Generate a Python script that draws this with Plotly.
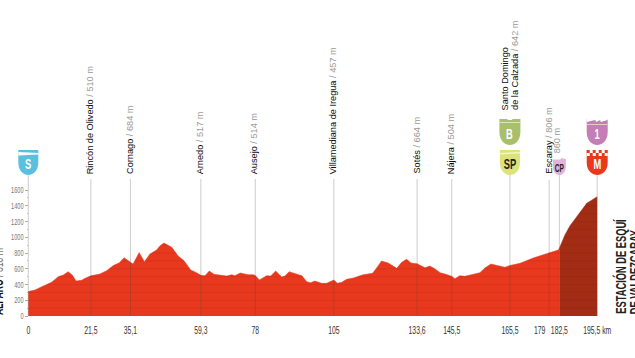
import numpy as np
import plotly.graph_objects as go

KM = [0,2.3,4.6,8,10.3,12,13.7,15.1,16.4,18.3,19.5,21.5,24.6,26.9,29.2,31.3,32.9,35.1,36,38.1,39.9,41.8,44.1,45.2,46.6,49.3,51.5,53.5,55.8,57.8,59.3,60.7,62.2,63.8,66.4,68.2,69.9,71,72.8,75.6,77.3,78,79.4,81.9,83.3,85,87.1,88.2,89.6,91.7,94,95.7,97,98.5,100.8,102.5,105,106.2,107.7,109.4,111.7,115.1,118.3,120,121.4,123.7,126.6,128.3,130,131.5,133.6,136.3,138,139.8,141.5,143.2,145.5,146.6,148.3,150,152.9,155.2,156.9,159,161.5,163.8,165.5,169,173.5,179,182.1,182.5,184.4,186.1,189.4,191.9,195.5]
ELEV = [310,330,372,428,500,520,563,520,444,453,478,510,533,576,640,677,741,684,660,805,690,787,838,889,927,872,762,703,584,550,517,512,571,529,520,508,525,512,546,525,525,514,457,512,508,571,495,508,563,538,512,436,423,444,415,415,457,415,428,466,483,525,542,626,698,673,605,681,720,673,664,614,635,597,550,533,504,474,512,504,525,550,610,660,639,618,642,669,737,806,838,860,1029,1143,1312,1431,1515]

PLACES = ["Rincón de Olivedo","Cornago","Arnedo","Ausejo","Villamediana de Iregua","Sotés","Nájera"]
PLACE_KM = [21.5,35.1,59.3,78,105,133.6,145.5]
PLACE_M = ["510 m","684 m","517 m","514 m","457 m","664 m","504 m"]

X_TICK_POS = [0,21.5,35.1,59.3,78,105,133.6,145.5,165.5,175.7,182.5,195.5]
X_TICK_TEXT = ["0","21,5","35,1","59,3","78","105","133,6","145,5","165,5","179","182,5","195,5 km"]
Y_TICKS = [0,200,400,600,800,1000,1200,1400,1600]
Y_MINOR = [100,300,500,700,900,1100,1300,1500]
LINE_KM = [0,21.5,35.1,59.3,78,105,133.6,145.5,165.5,179,182.5,195.5]
LINE_TOP = [1790,1740,1740,1740,1740,1740,1740,1740,1790,1725,1790,1790]
CLIMB_START = 182.5

RED, DARK = "#E8391F", "#A32C14"
NARROW = "Liberation Sans Narrow, Liberation Sans, sans-serif"
SANS = "Liberation Sans, Arial, sans-serif"
PX_PER_M = 0.07875
PX_PER_KM = 2.91
BASE_PX = 316
LEFT_PX = 28.3
def e(py):
    return (BASE_PX - py) / PX_PER_M

km, elev = np.array(KM), np.array(ELEV)
fig = go.Figure()
m1 = km <= CLIMB_START
fig.add_trace(go.Scatter(x=km[m1], y=elev[m1], mode="lines", fill="tozeroy", fillcolor=RED,
                         line=dict(color=RED, width=0.5), hoverinfo="skip"))
m2 = km >= CLIMB_START
fig.add_trace(go.Scatter(x=km[m2], y=elev[m2], mode="lines", fill="tozeroy", fillcolor=DARK,
                         line=dict(color=DARK, width=0.5), hoverinfo="skip"))

# faint level stripes clipped to the profile
grid_x = np.linspace(0, 195.5, 1600)
grid_profile = np.interp(grid_x, km, elev)
for lev in range(100, 1600, 100):
    fig.add_trace(go.Scatter(x=grid_x, y=np.where(grid_profile >= lev, lev, np.nan), mode="lines",
                             line=dict(color="rgba(110,20,0,0.16)", width=0.8), hoverinfo="skip"))

for k, top in zip(LINE_KM, LINE_TOP):
    fig.add_trace(go.Scatter(x=[k, k], y=[0, top], mode="lines", cliponaxis=False,
                             line=dict(color="rgba(70,70,70,0.27)", width=1), hoverinfo="skip"))
# elbow connecting km 179 to its displaced label
fig.add_trace(go.Scatter(x=[179, 179, 175.7], y=[0, -40, -40], mode="lines", cliponaxis=False,
                         line=dict(color="rgba(70,70,70,0.3)", width=0.8), hoverinfo="skip"))

anns = []
def place(k, html, py, xshift=0, size=9.2):
    anns.append(dict(x=k, y=e(py), xref="x", yref="y", text=html, showarrow=False, textangle=-90,
                     xanchor="center", yanchor="bottom", xshift=xshift, align="left",
                     font=dict(family=SANS, size=size)))
def lab(name, m):
    return f'<span style="color:#0d0d0d">{name}</span><span style="color:#9a9a9a"> / {m}</span>'

for n, k, m in zip(PLACES, PLACE_KM, PLACE_M):
    place(k, lab(n, m), 176, xshift=-1)
place(179, lab("Escaray", "806 m"), 176, xshift=-1)
place(182.5, '<span style="color:#9a9a9a">860 m</span>', 155, xshift=-2)
place(165.5, '<span style="color:#0d0d0d">de la Calzada</span><span style="color:#9a9a9a"> / 642 m</span>', 112, xshift=5)
place(165.5, '<span style="color:#0d0d0d">Santo Domingo</span>', 112, xshift=-5)

# shields
shapes = []
def shield_path(hw, h):
    return (f"M {-hw} 0 L {hw} 0 L {hw} {-0.5*h} C {hw} {-0.85*h} {0.45*hw} {-h} 0 {-h} "
            f"C {-0.45*hw} {-h} {-hw} {-0.85*h} {-hw} {-0.5*h} Z")
def pix_shape(k, py, path, color):
    shapes.append(dict(type="path", xref="x", yref="y", xsizemode="pixel", ysizemode="pixel",
                       xanchor=k, yanchor=e(py), path=path, fillcolor=color, line=dict(width=0)))
def badge(k, top, bottom, hw, color, text, tcolor, size):
    pix_shape(k, top, shield_path(hw, bottom - top), color)
    anns.append(dict(x=k, y=e((top + bottom) / 2 + 1), xref="x", yref="y", text=f"<b>{text}</b>", showarrow=False,
                     xanchor="center", yanchor="middle", font=dict(family=NARROW, size=size, color=tcolor)))
def rect(x0, y0, x1, y1):
    return f"M {x0} {-y0} L {x1} {-y0} L {x1} {-y1} L {x0} {-y1} Z"

badge(0, 150, 175, 10, "#5BC0E0", "S", "white", 15)
pix_shape(0, 150, "M -10 -2 L 10 -3 L 10 -4.5 L -10 -5.5 Z", "white")
badge(165.5, 150, 175, 10, "#DCE37A", "SP", "#222", 15)
pix_shape(165.5, 150, "M -10 -3 L 10 -2 L 10 -3.5 L -10 -4.5 Z", "#F4F6C8")
badge(165.5, 119, 145, 10.5, "#A9BF6C", "B", "white", 15)
pix_shape(165.5, 119, rect(-10.5, 3, 10.5, 4), "#DDE6BE")
pix_shape(165.5, 119, "M -10.5 0.5 L -3 0.5 L -2 -1 L 2 -1 L 3 0.5 L 10.5 0.5 L 10.5 0 L -10.5 0 Z", "white")
badge(182.5, 158, 175, 6.5, "#E3B4D8", "CP", "#222", 10.5)
pix_shape(182.5, 158, "M -6.5 0.5 L 6.5 0.5 L 6.5 -1 L 2 0 L 1 -1.5 L -6.5 -1.5 Z", "white")
badge(195.5, 119, 145, 10.5, "#C47DB5", "1", "white", 15)
pix_shape(195.5, 119, "M -10.5 0.5 L 10.5 0.5 L 10.5 -1 L 3.5 -3 L 3 -1 L -1 -3 L -2 -1 L -10.5 -3 Z", "white")
pix_shape(195.5, 119, rect(-10.5, 5, 10.5, 6), "#EBC9C0")
badge(195.5, 150, 175, 10.5, RED, "M", "white", 15)
pix_shape(195.5, 150, rect(-10.5, 0, 10.5, 6), "white")
for r in range(2):
    for c in range(7):
        if (r + c) % 2 == 0:
            pix_shape(195.5, 150, rect(-10.5 + 3 * c, 3 * r, -7.5 + 3 * c, 3 * r + 3), RED)

# side titles, partly running off the page as in the reference
anns.append(dict(xref="paper", yref="y", x=0, y=0, xshift=8, yshift=-1, xanchor="right", yanchor="bottom",
                 textangle=-90, showarrow=False, align="left",
                 text='<span style="color:#111"><b>ALFARO</b></span><span style="color:#777"> / 310 m</span>',
                 font=dict(family=NARROW, size=14)))
anns.append(dict(x=195.5, y=0, xref="x", yref="y", xshift=23, xanchor="center", yanchor="bottom", textangle=-90,
                 showarrow=False, text="<b>ESTACIÓN DE ESQUÍ</b>", align="left",
                 font=dict(family=NARROW, size=15, color="#222")))
anns.append(dict(x=195.5, y=0, xref="x", yref="y", xshift=37, xanchor="center", yanchor="bottom", textangle=-90,
                 showarrow=False, text="<b>DE VALDEZCARAY</b>", align="left",
                 font=dict(family=NARROW, size=15, color="#222")))

fig.update_layout(
    width=635, height=358, showlegend=False, autosize=False,
    margin=dict(l=0, r=0, t=0, b=42, pad=0),
    paper_bgcolor="white", plot_bgcolor="white",
    annotations=anns, shapes=shapes,
    xaxis=dict(range=[-LEFT_PX / PX_PER_KM, (635 - LEFT_PX) / PX_PER_KM], showgrid=False, zeroline=False,
               showline=False, ticks="outside", ticklen=4, tickcolor="rgba(0,0,0,0)",
               tickangle=0, tickmode="array", tickvals=X_TICK_POS, ticktext=X_TICK_TEXT,
               tickfont=dict(family=NARROW, size=11, color="#333")),
    yaxis=dict(range=[0, BASE_PX / PX_PER_M], showgrid=False, zeroline=False, showline=False,
               anchor="free", position=LEFT_PX / 635,
               tickmode="array", tickvals=Y_TICKS, ticks="outside", ticklen=3, tickcolor="#aaa", tickwidth=1,
               minor=dict(tickmode="array", tickvals=Y_MINOR, ticks="outside", ticklen=1.5, tickcolor="#bbb"),
               tickfont=dict(family=NARROW, size=9, color="#777")),
)
# No condensed face is installed: squeeze the real text elements set in the narrow family
NARROW_JS = """
function squeeze(){document.querySelectorAll('svg text').forEach(function(t){
 if(t.dataset.sq||!(t.style.fontFamily||'').includes('Narrow'))return;
 t.dataset.sq='1';t.setAttribute('textLength',t.getComputedTextLength()*0.62);
 t.setAttribute('lengthAdjust','spacingAndGlyphs');});}
document.body.style.margin='0';document.documentElement.style.overflow='hidden';
squeeze();setTimeout(squeeze,0);setTimeout(squeeze,100);
"""
fig.write_html("out.html", post_script=NARROW_JS, config=dict(displayModeBar=False))
